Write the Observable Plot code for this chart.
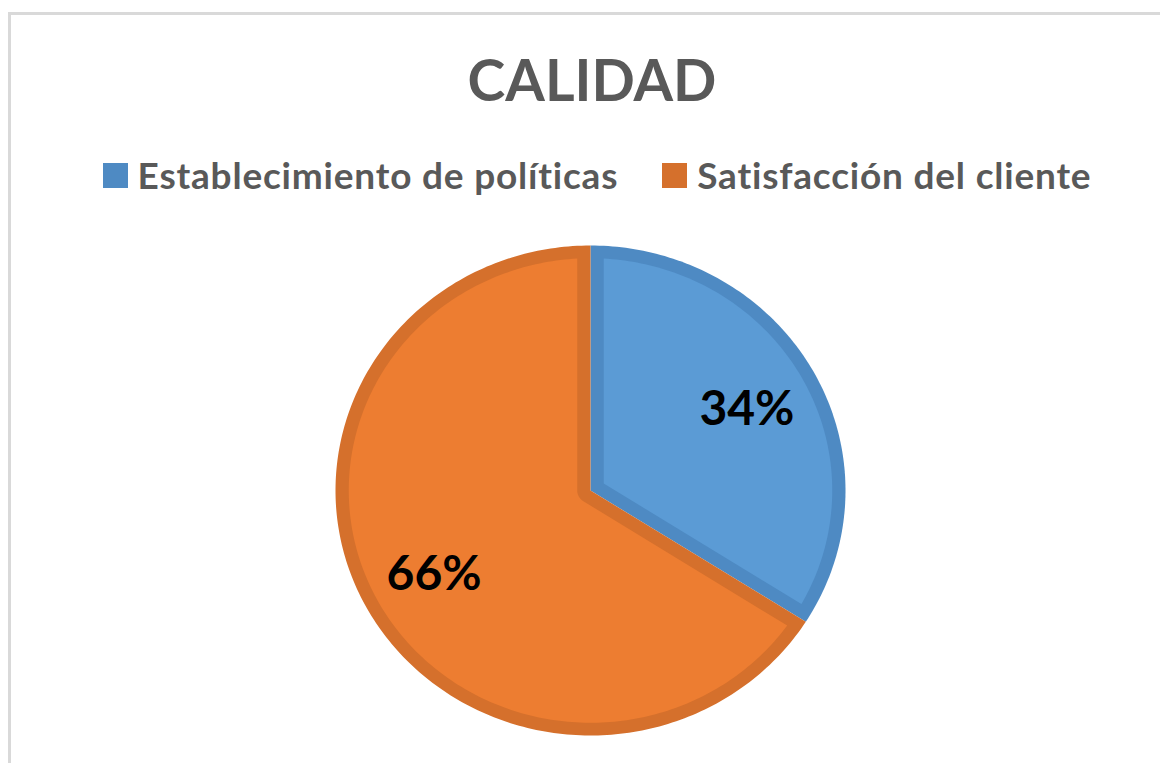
<!DOCTYPE html>
<html>
<head>
<meta charset="utf-8">
<script src="https://cdn.jsdelivr.net/npm/d3@7"></script>
<script src="https://cdn.jsdelivr.net/npm/@observablehq/plot@0.6"></script>
<style>
  html, body { margin: 0; padding: 0; background: #fff; overflow: hidden; width: 1160px; height: 763px; }
  #frame { position: absolute; left: 8px; top: 12px; width: 1200px; height: 800px; border-left: 3px solid #d9d9d9; border-top: 3px solid #d9d9d9; }
  #title { position: absolute; left: 0; width: 1184px; top: 51px; text-align: center; font: bold 57px Lato, sans-serif; line-height: 57px; color: #595959; }
  #legend { position: absolute; left: 0; width: 1194px; top: 155px; display: flex; justify-content: center; align-items: center; font: bold 37px Lato, sans-serif; letter-spacing: 0.8px; line-height: 40px; color: #595959; }
  .item { display: flex; align-items: center; margin: 0 22px; }
  .sw { width: 25px; height: 25px; margin-right: 10px; }
  #chart { position: absolute; left: 0; top: 220px; }
</style>
</head>
<body>
<div id="frame"></div>
<div id="title">CALIDAD</div>
<div id="legend"></div>
<div id="chart"></div>
<script>
const title = "CALIDAD";
const categories = ["Establecimiento de políticas", "Satisfacción del cliente"];
const values = [34, 66];
const fillColors = ["#5B9BD5", "#ED7D31"];
const edgeColors = ["#4E8AC3", "#D5702C"];

// legend
const legend = document.getElementById("legend");
categories.forEach((c, i) => {
  const it = document.createElement("div");
  it.className = "item";
  const sw = document.createElement("div");
  sw.className = "sw";
  sw.style.background = edgeColors[i];
  const tx = document.createElement("span");
  tx.textContent = c;
  it.appendChild(sw); it.appendChild(tx);
  legend.appendChild(it);
});

// slices as polygons in unit-circle space (angle clockwise from top)
const total = d3.sum(values);
const pieArcs = d3.pie().sort(null).value(d => d)(values);
const inset = 0.052;
function arcPts(r, a0, a1) {
  const n = Math.max(2, Math.ceil(Math.abs(a1 - a0) / (Math.PI / 180)));
  return d3.range(n + 1).map(k => {
    const t = a0 + (a1 - a0) * k / n;
    return [r * Math.sin(t), r * Math.cos(t)];
  });
}
const polys = [];
pieArcs.forEach((a, i) => {
  const a0 = a.startAngle, a1 = a.endAngle;
  const outer = [[0, 0], ...arcPts(1, a0, a1)];
  outer.forEach(([x, y]) => polys.push({key: "e" + i, x, y, color: edgeColors[i]}));
  const th = (a1 - a0) / 2;
  const dl = Math.asin(inset / (1 - inset));
  let inner;
  if (th < Math.PI / 2) {
    const m = (a0 + a1) / 2, rr = inset / Math.sin(th);
    inner = [[rr * Math.sin(m), rr * Math.cos(m)], ...arcPts(1 - inset, a0 + dl, a1 - dl)];
  } else {
    inner = [...arcPts(1 - inset, a0 + dl, a1 - dl), ...arcPts(inset, a1 - Math.PI / 2, a0 + Math.PI / 2)];
  }
  inner.forEach(([x, y]) => polys.push({key: "f" + i, x, y, color: fillColors[i]}));
});
const labels = pieArcs.map((a, i) => {
  const m = (a.startAngle + a.endAngle) / 2;
  return {x: 0.7 * Math.sin(m), y: 0.7 * Math.cos(m), text: Math.round(values[i] / total * 100) + "%"};
});

const chart = Plot.plot({
  width: 1160,
  height: 543,
  margin: 0,
  x: {domain: [-1, 1], range: [335, 845], axis: null},
  y: {domain: [-1, 1], range: [515, 25], axis: null},
  color: {type: "identity"},
  style: {background: "transparent"},
  marks: [
    Plot.line(polys, {x: "x", y: "y", z: "key", fill: "color", stroke: "none", curve: "linear"}),
    Plot.text(labels, {x: "x", y: "y", text: "text", dy: 2, fontSize: 48, fontWeight: "bold", fontFamily: "Lato, sans-serif", fill: "#000"})
  ]
});
document.getElementById("chart").appendChild(chart);
</script>
</body>
</html>
